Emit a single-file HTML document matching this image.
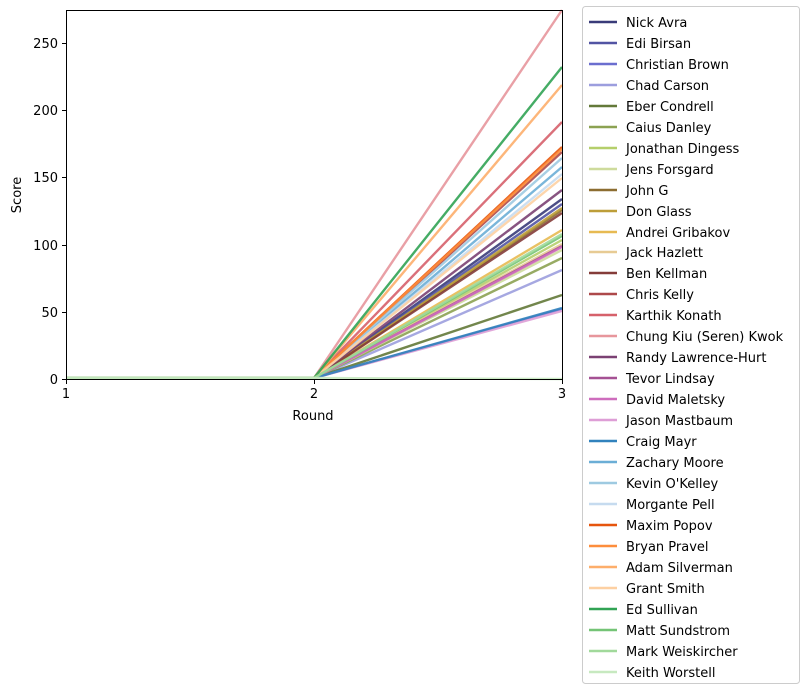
<!DOCTYPE html>
<html><head><meta charset="utf-8"><style>
body{margin:0;background:#fff;}
svg{display:block;font-family:"DejaVu Sans","Liberation Sans",sans-serif;}
</style></head><body>
<svg width="808" height="694" xmlns="http://www.w3.org/2000/svg">
<rect width="808" height="694" fill="#fff"/>
<g stroke-width="2.4" fill="none" stroke-opacity="0.9">
<polyline points="66,378 314,378 562,199" stroke="#393b79"/>
<polyline points="66,378 314,378 562,204" stroke="#5254a3"/>
<polyline points="66,378 314,378 562,309" stroke="#6b6ecf"/>
<polyline points="66,378 314,378 562,270" stroke="#9c9ede"/>
<polyline points="66,378 314,378 562,295" stroke="#637939"/>
<polyline points="66,378 314,378 562,258" stroke="#8ca252"/>
<polyline points="66,378 314,378 562,240" stroke="#b5cf6b"/>
<polyline points="66,378 314,378 562,250" stroke="#cedb9c"/>
<polyline points="66,378 314,378 562,210" stroke="#8c6d31"/>
<polyline points="66,378 314,378 562,208" stroke="#bd9e39"/>
<polyline points="66,378 314,378 562,230" stroke="#e7ba52"/>
<polyline points="66,378 314,378 562,244" stroke="#e7cb94"/>
<polyline points="66,378 314,378 562,213" stroke="#843c39"/>
<polyline points="66,378 314,378 562,152" stroke="#ad494a"/>
<polyline points="66,378 314,378 562,122" stroke="#d6616b"/>
<polyline points="66,378 314,378 562,10" stroke="#e7969c"/>
<polyline points="66,378 314,378 562,190" stroke="#7b4173"/>
<polyline points="66,378 314,378 562,246" stroke="#a55194"/>
<polyline points="66,378 314,378 562,247" stroke="#ce6dbd"/>
<polyline points="66,378 314,378 562,311" stroke="#de9ed6"/>
<polyline points="66,378 314,378 562,308" stroke="#3182bd"/>
<polyline points="66,378 314,378 562,167" stroke="#6baed6"/>
<polyline points="66,378 314,378 562,158" stroke="#9ecae1"/>
<polyline points="66,378 314,378 562,174" stroke="#c6dbef"/>
<polyline points="66,378 314,378 562,147" stroke="#e6550d"/>
<polyline points="66,378 314,378 562,149" stroke="#fd8d3c"/>
<polyline points="66,378 314,378 562,85" stroke="#fdae6b"/>
<polyline points="66,378 314,378 562,178" stroke="#fdd0a2"/>
<polyline points="66,378 314,378 562,67" stroke="#31a354"/>
<polyline points="66,378 314,378 562,236" stroke="#74c476"/>
<polyline points="66,378 314,378 562,234" stroke="#a1d99b"/>
<polyline points="66,378 314,378 562,379" stroke="#c7e9c0"/>
</g>
<rect x="66.5" y="10.5" width="496" height="369" fill="none" stroke="#000" stroke-width="1"/>
<g stroke="#000" stroke-width="1">
<line x1="66.5" y1="379" x2="66.5" y2="384"/><line x1="314.5" y1="379" x2="314.5" y2="384"/><line x1="562.5" y1="379" x2="562.5" y2="384"/>
<line x1="62" y1="379.5" x2="66" y2="379.5"/><line x1="62" y1="312.5" x2="66" y2="312.5"/><line x1="62" y1="245.5" x2="66" y2="245.5"/><line x1="62" y1="177.5" x2="66" y2="177.5"/><line x1="62" y1="110.5" x2="66" y2="110.5"/><line x1="62" y1="43.5" x2="66" y2="43.5"/>
</g>
<g font-size="13" fill="#000">
<text x="66" y="398" text-anchor="middle">1</text><text x="314" y="398" text-anchor="middle">2</text><text x="562" y="398" text-anchor="middle">3</text>
<text x="313" y="420" text-anchor="middle">Round</text>
<g text-anchor="end"><text x="58" y="384">0</text><text x="58" y="317">50</text><text x="58" y="250">100</text><text x="58" y="182">150</text><text x="58" y="115">200</text><text x="58" y="48">250</text></g>
<text transform="translate(21,195) rotate(-90)" text-anchor="middle">Score</text>
</g>
<rect x="582.5" y="6.5" width="217" height="677" rx="3" fill="#fff" stroke="#ccc"/>
<g font-size="13" fill="#000" stroke-width="2.6">
<line x1="589" y1="22" x2="617" y2="22" stroke="#393b79"/><text x="626" y="27">Nick Avra</text>
<line x1="589" y1="43" x2="617" y2="43" stroke="#5254a3"/><text x="626" y="48">Edi Birsan</text>
<line x1="589" y1="64" x2="617" y2="64" stroke="#6b6ecf"/><text x="626" y="69">Christian Brown</text>
<line x1="589" y1="85" x2="617" y2="85" stroke="#9c9ede"/><text x="626" y="90">Chad Carson</text>
<line x1="589" y1="106" x2="617" y2="106" stroke="#637939"/><text x="626" y="111">Eber Condrell</text>
<line x1="589" y1="127" x2="617" y2="127" stroke="#8ca252"/><text x="626" y="132">Caius Danley</text>
<line x1="589" y1="148" x2="617" y2="148" stroke="#b5cf6b"/><text x="626" y="153">Jonathan Dingess</text>
<line x1="589" y1="169" x2="617" y2="169" stroke="#cedb9c"/><text x="626" y="174">Jens Forsgard</text>
<line x1="589" y1="190" x2="617" y2="190" stroke="#8c6d31"/><text x="626" y="195">John G</text>
<line x1="589" y1="211" x2="617" y2="211" stroke="#bd9e39"/><text x="626" y="216">Don Glass</text>
<line x1="589" y1="232" x2="617" y2="232" stroke="#e7ba52"/><text x="626" y="237">Andrei Gribakov</text>
<line x1="589" y1="252" x2="617" y2="252" stroke="#e7cb94"/><text x="626" y="257">Jack Hazlett</text>
<line x1="589" y1="273" x2="617" y2="273" stroke="#843c39"/><text x="626" y="278">Ben Kellman</text>
<line x1="589" y1="294" x2="617" y2="294" stroke="#ad494a"/><text x="626" y="299">Chris Kelly</text>
<line x1="589" y1="315" x2="617" y2="315" stroke="#d6616b"/><text x="626" y="320">Karthik Konath</text>
<line x1="589" y1="336" x2="617" y2="336" stroke="#e7969c"/><text x="626" y="341">Chung Kiu (Seren) Kwok</text>
<line x1="589" y1="357" x2="617" y2="357" stroke="#7b4173"/><text x="626" y="362">Randy Lawrence-Hurt</text>
<line x1="589" y1="378" x2="617" y2="378" stroke="#a55194"/><text x="626" y="383">Tevor Lindsay</text>
<line x1="589" y1="399" x2="617" y2="399" stroke="#ce6dbd"/><text x="626" y="404">David Maletsky</text>
<line x1="589" y1="420" x2="617" y2="420" stroke="#de9ed6"/><text x="626" y="425">Jason Mastbaum</text>
<line x1="589" y1="441" x2="617" y2="441" stroke="#3182bd"/><text x="626" y="446">Craig Mayr</text>
<line x1="589" y1="462" x2="617" y2="462" stroke="#6baed6"/><text x="626" y="467">Zachary Moore</text>
<line x1="589" y1="483" x2="617" y2="483" stroke="#9ecae1"/><text x="626" y="488">Kevin O'Kelley</text>
<line x1="589" y1="504" x2="617" y2="504" stroke="#c6dbef"/><text x="626" y="509">Morgante Pell</text>
<line x1="589" y1="525" x2="617" y2="525" stroke="#e6550d"/><text x="626" y="530">Maxim Popov</text>
<line x1="589" y1="546" x2="617" y2="546" stroke="#fd8d3c"/><text x="626" y="551">Bryan Pravel</text>
<line x1="589" y1="567" x2="617" y2="567" stroke="#fdae6b"/><text x="626" y="572">Adam Silverman</text>
<line x1="589" y1="588" x2="617" y2="588" stroke="#fdd0a2"/><text x="626" y="593">Grant Smith</text>
<line x1="589" y1="609" x2="617" y2="609" stroke="#31a354"/><text x="626" y="614">Ed Sullivan</text>
<line x1="589" y1="630" x2="617" y2="630" stroke="#74c476"/><text x="626" y="635">Matt Sundstrom</text>
<line x1="589" y1="651" x2="617" y2="651" stroke="#a1d99b"/><text x="626" y="656">Mark Weiskircher</text>
<line x1="589" y1="672" x2="617" y2="672" stroke="#c7e9c0"/><text x="626" y="677">Keith Worstell</text>
</g>
</svg>
</body></html>
